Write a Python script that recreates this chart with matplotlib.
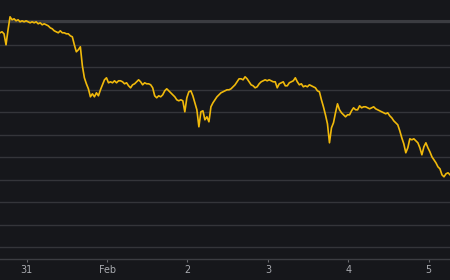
import matplotlib
matplotlib.use("Agg")
import matplotlib.pyplot as plt
import matplotlib.dates as mdates
from matplotlib.ticker import FuncFormatter
import numpy as np
import pandas as pd

# price samples every 36 minutes, starting Jan 30 16:00
start = "2023-01-30 16:00"
step = "36min"
prices = [
    2229, 2231, 2227, 2205, 2235, 2261, 2255, 2257, 2253, 2255,
    2251, 2253, 2251, 2253, 2251, 2249, 2251, 2249, 2251, 2247,
    2249, 2245, 2247, 2245, 2243, 2239, 2237, 2233, 2231, 2229,
    2233, 2229, 2229, 2227, 2227, 2223, 2221, 2205, 2191, 2195,
    2201, 2163, 2139, 2127, 2117, 2101, 2107, 2101, 2109, 2103,
    2115, 2125, 2135, 2139, 2129, 2131, 2129, 2133, 2129, 2133,
    2133, 2131, 2127, 2129, 2123, 2119, 2125, 2127, 2131, 2135,
    2131, 2125, 2129, 2127, 2127, 2125, 2119, 2103, 2099, 2103,
    2101, 2105, 2113, 2117, 2113, 2109, 2105, 2101, 2095, 2093,
    2095, 2093, 2071, 2099, 2111, 2113, 2103, 2089, 2075, 2041,
    2071, 2073, 2055, 2061, 2051, 2081, 2089, 2095, 2101, 2105,
    2109, 2111, 2113, 2115, 2115, 2117, 2121, 2125, 2131, 2137,
    2137, 2135, 2141, 2137, 2131, 2125, 2123, 2119, 2121, 2127,
    2131, 2133, 2135, 2133, 2135, 2133, 2131, 2131, 2119, 2127,
    2129, 2131, 2123, 2123, 2129, 2131, 2133, 2139, 2131, 2125,
    2127, 2121, 2123, 2121, 2125, 2123, 2121, 2119, 2113, 2111,
    2095, 2081, 2065, 2047, 2009, 2039, 2049, 2069, 2087, 2075,
    2069, 2065, 2061, 2065, 2065, 2073, 2079, 2075, 2075, 2083,
    2079, 2081, 2081, 2079, 2077, 2079, 2081, 2077, 2075, 2073,
    2071, 2069, 2067, 2069, 2063, 2059, 2053, 2049, 2045, 2033,
    2019, 2007, 1989, 1999, 2017, 2015, 2017, 2013, 2009, 1999,
    1985, 2001, 2009, 1999, 1991, 1981, 1975, 1969, 1961, 1957,
    1945, 1941, 1947, 1949, 1945,
]
grid_levels = np.arange(1800, 2251, 45)

times = pd.date_range(start, periods=len(prices), freq=step)

bg = "#16171b"
fig = plt.figure(figsize=(4.5, 2.8), dpi=100, facecolor=bg)
ax = fig.add_axes([0, 21.5 / 280, 1, 258.5 / 280], facecolor=bg)

for lv in grid_levels:
    ax.axhline(lv, color="#34353a", lw=1.0, zorder=0)
# top band looks a bit heavier in the original
ax.axhline(grid_levels[-1] + 2, color="#3b3c41", lw=2.2, zorder=0)

ax.plot(times, prices, color="#f0b90b", lw=1.2, zorder=3)

ax.set_xlim(times[0], times[-1])
ax.set_ylim(1777.6, 2294.6)

for s in ["top", "left", "right"]:
    ax.spines[s].set_visible(False)
ax.spines["bottom"].set_color("#3c3d42")
ax.spines["bottom"].set_linewidth(1.0)

ax.set_yticks([])
ax.xaxis.set_major_locator(mdates.DayLocator())
ax.xaxis.set_major_formatter(FuncFormatter(
    lambda v, pos: "Feb" if mdates.num2date(v).day == 1 else str(mdates.num2date(v).day)))
ax.tick_params(axis="x", colors="#6b6c70", length=2.2, width=0.8, pad=2.8,
               labelsize=6.9, labelcolor="#a9abb0")

fig.savefig("out.png", dpi=100, facecolor=bg)
